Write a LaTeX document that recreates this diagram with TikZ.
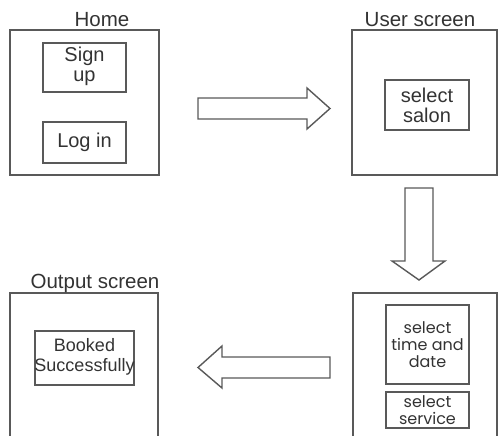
\documentclass[tikz,border=0pt]{standalone}
\usepackage{fontspec}
\setmainfont{Liberation Sans}
\newfontfamily\geofont{Poppins}
\begin{document}
\begin{tikzpicture}[x=1pt,y=-1pt,
  line width=1.4pt,
  every node/.style={text=black!80, inner sep=0pt, outer sep=0pt},
  frame/.style={draw=black!65, rectangle},
  inbox/.style={draw=black!65, rectangle, align=center},
  lbl/.style={font=\fontsize{20.5}{22}\selectfont},
  txt/.style={font=\fontsize{20}{20}\selectfont},
  gtxt/.style={font=\geofont\fontsize{16}{17}\selectfont},
  blockarrow/.style={draw=black!65, fill=white, line join=miter}]
\useasboundingbox (0,0) rectangle (499,436);
\clip (0,0) rectangle (499,436);
% frames
\node[frame, minimum width=149pt, minimum height=145pt] (home) at (84.5,102.5) {};
\node[frame, minimum width=145pt, minimum height=145pt] (user) at (424.5,102.5) {};
\node[frame, minimum width=144pt, minimum height=150pt] (book) at (425,368) {};
\node[frame, minimum width=148pt, minimum height=150pt] (out) at (84,368) {};
% labels
\node[lbl] (homelbl) at (102,20) {Home};
\node[lbl] (userlbl) at (420,20) {User screen};
\node[lbl] (outlbl) at (95,283) {Output screen};
% inner boxes
\node[inbox, minimum width=83pt, minimum height=49pt] (signup) at (84.5,67.5) {};
\node[txt, align=center] (signuptxt) at (84.5,66) {Sign\\up};
\node[inbox, txt, minimum width=83pt, minimum height=41pt] (login) at (84.5,142.5) {Log in};
\node[inbox, txt, minimum width=84pt, minimum height=50pt] (salon) at (427,105) {select\\salon};
\node[inbox, gtxt, minimum width=83pt, minimum height=79pt] (timedate) at (427.5,344.5) {select\\time and\\date};
\node[inbox, gtxt, minimum width=83pt, minimum height=36pt] (service) at (427.5,410) {select\\service};
\node[inbox, minimum width=99pt, minimum height=54pt] (booked) at (84.5,358) {};
\node[font=\fontsize{18}{20}\selectfont, align=center] (bookedtxt) at (84.5,357) {Booked\\Successfully};
% block arrows
\draw[blockarrow] (198,98) -- (307,98) -- (307,88) -- (330,108.5) -- (307,129) -- (307,119) -- (198,119) -- cycle;
\draw[blockarrow] (405,188) -- (433,188) -- (433,261) -- (445,261) -- (419,280) -- (392,261) -- (405,261) -- cycle;
\draw[blockarrow] (330,357) -- (330,378) -- (222,378) -- (222,388) -- (198,367.5) -- (222,346) -- (222,357) -- cycle;
\end{tikzpicture}
\end{document}
